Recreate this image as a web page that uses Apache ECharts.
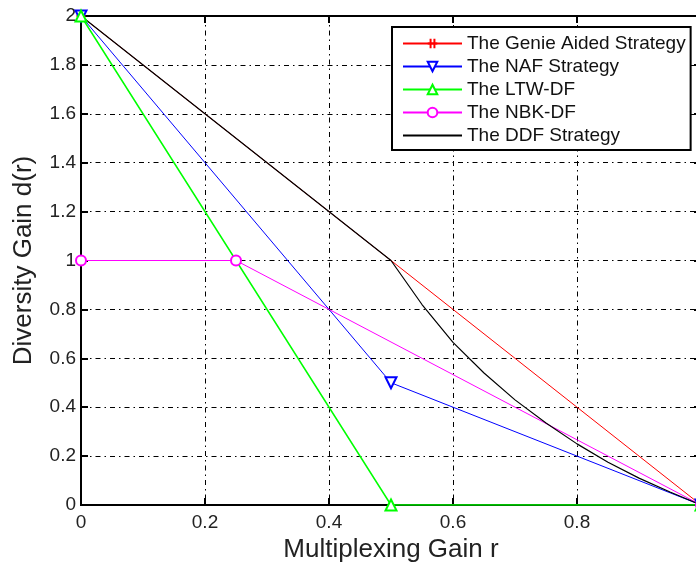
<!DOCTYPE html>
<html>
<head>
<meta charset="utf-8">
<script src="https://cdn.jsdelivr.net/npm/echarts@6/dist/echarts.min.js"></script>
<style>html,body{margin:0;padding:0;background:#fff;}#c{width:696px;height:565px;}</style>
</head>
<body>
<div id="c"></div>
<script>
// Data
const genieR = [0, 1];
const genieD = [2, 0];
const nafR = [0, 0.5, 1];
const nafD = [2, 0.5, 0];
const ltwR = [0, 0.5, 1];
const ltwD = [2, 0, 0];
const nbkR = [0, 0.25, 1];
const nbkD = [1, 1, 0];
const ddfR = [0, 0.5, 0.55, 0.6, 0.65, 0.7, 0.75, 0.8, 0.85, 0.9, 0.95, 1];
const ddfD = [2, 1, 0.82, 0.665, 0.54, 0.43, 0.335, 0.25, 0.175, 0.11, 0.053, 0];
const seriesNames = ['The Genie Aided Strategy', 'The NAF Strategy', 'The LTW-DF', 'The NBK-DF', 'The DDF Strategy'];

function pairs(xs, ys) { return xs.map((x, i) => [x, ys[i]]); }

const FONT = '"Liberation Sans", Arial, sans-serif';
const gridDash = { color: '#000', width: 1, type: [5, 4, 1.5, 4] };

const chart = echarts.init(document.getElementById('c'), null, { renderer: 'canvas' });
chart.setOption({
  animation: false,
  backgroundColor: '#fff',
  textStyle: { fontFamily: FONT },
  grid: { left: 81, top: 16, height: 489, width: 620, outerBoundsMode: 'none', containLabel: false,
          show: true, borderColor: '#000', borderWidth: 2, backgroundColor: '#fff' },
  legend: {
    orient: 'vertical',
    left: 392, top: 27,
    data: [
      seriesNames[0], seriesNames[1], seriesNames[2], seriesNames[3],
      { name: seriesNames[4], itemStyle: { color: 'rgba(0,0,0,0)', borderColor: 'rgba(0,0,0,0)' } }
    ],
    itemWidth: 59, itemHeight: 12, itemGap: 4,
    padding: [7, 5, 5, 10],
    backgroundColor: '#fff',
    borderColor: '#000', borderWidth: 2,
    textStyle: { fontFamily: FONT, fontSize: 19, color: '#111', lineHeight: 19 }
  },
  xAxis: [{
    type: 'value', min: 0, max: 1, interval: 0.2,
    name: 'Multiplexing Gain r', nameLocation: 'middle', nameGap: 30,
    nameTextStyle: { fontFamily: FONT, fontSize: 26, color: '#222' },
    axisLine: { show: true, onZero: false, lineStyle: { color: '#000', width: 2 } },
    axisTick: { show: true, inside: true, length: 7, lineStyle: { color: '#000', width: 2 } },
    axisLabel: { fontFamily: FONT, fontSize: 19, color: '#222', margin: 8 },
    splitLine: { show: true, lineStyle: gridDash }
  }, {
    type: 'value', position: 'top', min: 0, max: 1, interval: 0.2,
    axisLine: { show: true, onZero: false, lineStyle: { color: '#000', width: 2 } },
    axisTick: { show: true, inside: true, length: 7, lineStyle: { color: '#000', width: 2 } },
    axisLabel: { show: false }, splitLine: { show: false }
  }],
  yAxis: [{
    type: 'value', min: 0, max: 2, interval: 0.2,
    name: 'Diversity Gain d(r)', nameLocation: 'middle', nameGap: 44,
    nameTextStyle: { fontFamily: FONT, fontSize: 26, color: '#222' },
    axisLine: { show: true, onZero: false, lineStyle: { color: '#000', width: 2 } },
    axisTick: { show: true, inside: true, length: 7, lineStyle: { color: '#000', width: 2 } },
    axisLabel: { fontFamily: FONT, fontSize: 19, color: '#222', margin: 5 },
    splitLine: { show: true, lineStyle: gridDash }
  }, {
    type: 'value', position: 'right', min: 0, max: 2, interval: 0.2,
    axisLine: { show: true, onZero: false, lineStyle: { color: '#000', width: 2 } },
    axisTick: { show: true, inside: true, length: 7, lineStyle: { color: '#000', width: 2 } },
    axisLabel: { show: false }, splitLine: { show: false }
  }],
  series: [
    {
      name: seriesNames[0], type: 'line', data: pairs(genieR, genieD),
      symbol: 'path://M3,0 L3,10 M7,0 L7,10 M0,5 L10,5', symbolSize: 10, showAllSymbol: true,
      lineStyle: { color: '#ff0000', width: 1 },
      itemStyle: { color: 'rgba(0,0,0,0)', borderColor: '#ff0000', borderWidth: 1.2 }
    },
    {
      name: seriesNames[1], type: 'line', data: pairs(nafR, nafD),
      symbol: 'emptyTriangle', symbolRotate: 180, symbolSize: 11,
      lineStyle: { color: '#0000ff', width: 1 },
      itemStyle: { color: '#0000ff', borderColor: '#0000ff', borderWidth: 1.2 }
    },
    {
      name: seriesNames[2], type: 'line', data: pairs(ltwR, ltwD),
      symbol: 'emptyTriangle', symbolSize: 11,
      lineStyle: { color: '#00ff00', width: 1.5 },
      itemStyle: { color: '#00ff00', borderColor: '#00ff00', borderWidth: 1.2 }
    },
    {
      name: seriesNames[3], type: 'line', data: pairs(nbkR, nbkD),
      symbol: 'emptyCircle', symbolSize: 10,
      lineStyle: { color: '#ff00ff', width: 1 },
      itemStyle: { color: '#ff00ff', borderColor: '#ff00ff', borderWidth: 1.2 }
    },
    {
      name: seriesNames[4], type: 'line', data: pairs(ddfR, ddfD),
      symbol: 'none', showSymbol: false,
      lineStyle: { color: '#000000', width: 1.2 },
      itemStyle: { color: '#000000' }
    }
  ]
});
</script>
</body>
</html>
